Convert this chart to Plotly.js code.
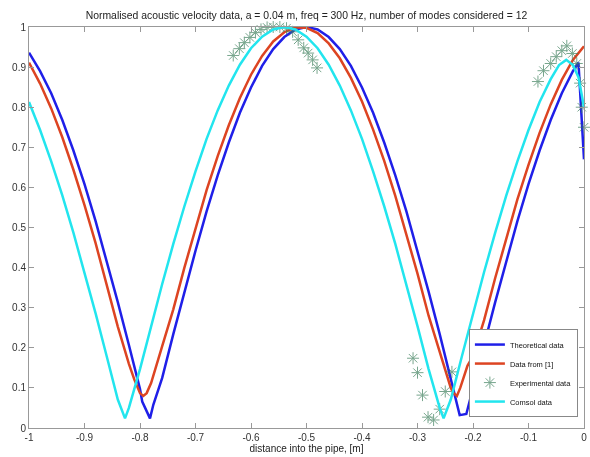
<!DOCTYPE html>
<html>
<head>
<meta charset="utf-8">
<script src="https://cdn.plot.ly/plotly-3.0.1.min.js"></script>
<style>html,body{margin:0;padding:0;background:#fff}#chart{width:590px;height:457px}</style>
</head>
<body>
<div id="chart"></div>
<script>
// Theoretical data (blue)
var theoX = [-1.00,-0.98,-0.96,-0.94,-0.92,-0.90,-0.88,-0.86,-0.84,-0.82,
  -0.80,-0.796,-0.782,-0.776,
  -0.76,-0.74,-0.72,-0.70,-0.68,-0.66,-0.64,-0.62,-0.60,-0.58,
  -0.56,-0.54,-0.52,-0.50,-0.48,-0.46,-0.44,-0.42,-0.40,-0.38,
  -0.36,-0.34,-0.32,-0.30,-0.28,-0.26,-0.24,
  -0.224,-0.212,
  -0.20,-0.18,-0.16,-0.14,-0.12,-0.10,-0.08,-0.06,-0.04,-0.02,-0.01,0.00];
var theoY = [0.936,0.890,0.835,0.768,0.692,0.608,0.516,0.417,0.314,0.207,
  0.097,0.066,0.024,0.058,
  0.125,0.234,0.340,0.442,0.540,0.630,0.712,0.786,0.849,0.903,
  0.945,0.975,0.994,1.000,0.994,0.975,0.945,0.903,0.849,0.786,
  0.712,0.630,0.540,0.442,0.340,0.234,0.125,
  0.032,0.035,
  0.097,0.207,0.314,0.417,0.516,0.608,0.692,0.768,0.835,0.890,0.911,0.670];

// Data from [1] (red)
var refX = [-1.00,-0.98,-0.96,-0.94,-0.92,-0.90,-0.88,-0.86,-0.84,-0.82,
  -0.81,-0.80,-0.794,-0.788,-0.78,
  -0.76,-0.74,-0.72,-0.70,-0.68,-0.66,-0.64,-0.62,-0.60,-0.58,
  -0.56,-0.54,-0.52,-0.50,-0.48,-0.46,-0.44,-0.42,-0.40,-0.38,
  -0.36,-0.34,-0.32,-0.30,-0.28,-0.26,
  -0.25,-0.24,-0.235,-0.229,-0.223,-0.21,
  -0.20,-0.18,-0.16,-0.14,-0.12,-0.10,-0.08,-0.06,-0.04,-0.02,0.00];
var refY = [0.911,0.859,0.797,0.725,0.644,0.556,0.461,0.359,0.253,0.160,
  0.120,0.087,0.080,0.087,0.112,
  0.204,0.296,0.400,0.500,0.593,0.678,0.755,0.823,0.881,0.928,
  0.964,0.987,0.999,0.998,0.985,0.959,0.922,0.873,0.814,0.744,
  0.666,0.579,0.485,0.385,0.280,0.190,
  0.141,0.100,0.087,0.080,0.100,0.155,
  0.179,0.269,0.374,0.475,0.570,0.656,0.736,0.807,0.868,0.918,0.952];

// Experimental data (stars)
var expX = [-0.632,-0.621,-0.612,-0.602,-0.592,-0.582,-0.571,-0.560,-0.548,-0.536,-0.525,-0.515,-0.505,-0.497,-0.489,-0.481,
  -0.308,-0.300,-0.291,-0.281,-0.271,-0.260,-0.250,-0.238,
  -0.083,-0.073,-0.060,-0.050,-0.040,-0.031,-0.021,-0.013,-0.007,-0.004,0.000];
var expY = [0.929,0.946,0.961,0.974,0.986,0.994,0.999,1.000,1.000,0.997,0.988,0.968,0.948,0.935,0.918,0.898,
  0.174,0.138,0.082,0.027,0.020,0.047,0.091,0.140,
  0.864,0.891,0.909,0.926,0.941,0.953,0.934,0.909,0.860,0.800,0.750];

// Comsol data (cyan)
var comsolX = [-1.00,-0.98,-0.96,-0.94,-0.92,-0.90,-0.88,-0.86,-0.84,
  -0.827,
  -0.82,-0.80,-0.78,-0.76,-0.74,-0.72,-0.70,-0.68,-0.66,-0.64,
  -0.62,-0.60,-0.58,-0.56,-0.54,-0.52,-0.50,-0.48,-0.46,-0.44,
  -0.42,-0.40,-0.38,-0.36,-0.34,-0.32,-0.30,-0.28,-0.26,
  -0.253,
  -0.24,-0.22,-0.20,-0.18,-0.16,-0.14,-0.12,-0.10,-0.08,-0.06,
  -0.045,-0.032,-0.02,-0.01,0.00];
var comsolY = [0.813,0.743,0.665,0.580,0.487,0.389,0.286,0.179,0.071,
  0.024,
  0.050,0.147,0.254,0.359,0.459,0.553,0.640,0.721,0.792,0.854,
  0.906,0.947,0.976,0.994,1.000,0.994,0.976,0.947,0.906,0.854,
  0.792,0.721,0.640,0.553,0.459,0.359,0.254,0.147,0.050,
  0.024,
  0.071,0.179,0.286,0.389,0.487,0.580,0.665,0.743,0.813,0.870,
  0.905,0.918,0.905,0.875,0.800];

var xTicks = [-1,-0.9,-0.8,-0.7,-0.6,-0.5,-0.4,-0.3,-0.2,-0.1,0];
var xTickText = ['-1','-0.9','-0.8','-0.7','-0.6','-0.5','-0.4','-0.3','-0.2','-0.1','0'];
var yTicks = [0,0.1,0.2,0.3,0.4,0.5,0.6,0.7,0.8,0.9,1];
var yTickText = ['0','0.1','0.2','0.3','0.4','0.5','0.6','0.7','0.8','0.9','1'];

var FONT = '"Liberation Sans", Arial, sans-serif';

var traces = [
  {x: theoX, y: theoY, type: 'scatter', mode: 'lines', name: 'Theoretical data',
   line: {color: '#1f1fe8', width: 2.5}},
  {x: refX, y: refY, type: 'scatter', mode: 'lines', name: 'Data from [1]',
   line: {color: '#dd4422', width: 2.5}},
  {x: expX, y: expY, type: 'scatter', mode: 'markers', name: 'Experimental data',
   cliponaxis: false, opacity: 0.7,
   marker: {symbol: 'asterisk-open', size: 10, color: '#3d7f5c', line: {color: '#3d7f5c', width: 1}}},
  {x: comsolX, y: comsolY, type: 'scatter', mode: 'lines', name: 'Comsol data',
   line: {color: '#22e5ee', width: 2.5}}
];

var axisCommon = {
  ticks: 'inside', ticklen: 5, tickcolor: '#999', tickwidth: 1,
  showline: true, linecolor: '#999', linewidth: 1, mirror: 'ticks',
  showgrid: false, zeroline: false,
  tickfont: {family: FONT, size: 10, color: '#333'}
};

var layout = {
  width: 590, height: 457,
  margin: {l: 29, r: 6, t: 27, b: 29},
  paper_bgcolor: '#fff', plot_bgcolor: '#fff',
  font: {family: FONT, size: 10, color: '#333'},
  title: {text: 'Normalised acoustic velocity data, a = 0.04 m, freq = 300 Hz, number of modes considered = 12',
          font: {family: FONT, size: 10.4, color: '#222'},
          x: 0.5195, xanchor: 'center', y: 0.967, yanchor: 'middle', yref: 'container'},
  xaxis: Object.assign({}, axisCommon, {
    range: [-1, 0], tickmode: 'array', tickvals: xTicks, ticktext: xTickText,
    title: {text: 'distance into the pipe, [m]', font: {family: FONT, size: 10, color: '#222'}, standoff: 2}
  }),
  yaxis: Object.assign({}, axisCommon, {
    range: [0, 1], tickmode: 'array', tickvals: yTicks, ticktext: yTickText
  }),
  showlegend: true,
  legend: {
    x: 0.989, y: 0.137, xanchor: 'right', yanchor: 'middle',
    bgcolor: '#fff', bordercolor: '#888', borderwidth: 1,
    font: {family: FONT, size: 7.5, color: '#111'},
    itemwidth: 30, tracegroupgap: 0
  }
};

Plotly.newPlot('chart', traces, layout, {displayModeBar: false, staticPlot: true});
</script>
</body>
</html>
